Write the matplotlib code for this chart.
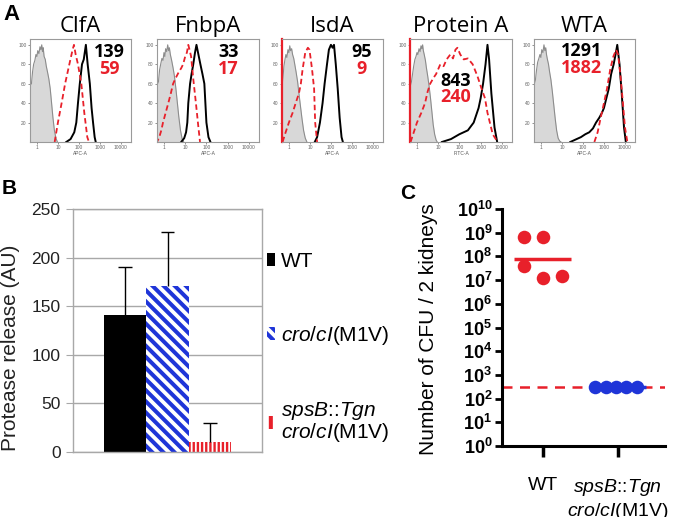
import matplotlib
matplotlib.use("Agg")
import matplotlib.pyplot as plt
from matplotlib.patches import Patch
import numpy as np

plt.rcParams['font.family'] = 'Liberation Sans'
plt.rcParams['mathtext.fontset'] = 'custom'
plt.rcParams['mathtext.rm'] = 'Liberation Sans'
plt.rcParams['mathtext.it'] = 'Liberation Sans:italic'
plt.rcParams['mathtext.bf'] = 'Liberation Sans:bold'
plt.rcParams['hatch.linewidth'] = 2.9

# ---- Panel A: flow cytometry histograms (intensity, % of max) ----
flow_titles = ["ClfA", "FnbpA", "IsdA", "Protein A", "WTA"]
flow_xlabels = ["APC-A", "APC-A", "APC-A", "FITC-A", "APC-A"]
mfi_wt = [139, 33, 95, 843, 1291]
mfi_mut = [59, 17, 9, 240, 1882]

clfa_neg = ([0.47, 0.55, 0.62, 0.7, 0.8, 0.9, 1.0, 1.1, 1.25, 1.4, 1.55, 1.7, 1.85, 2.0, 2.2, 2.5, 2.8, 3.2, 3.7, 4.3, 5.0, 5.8, 6.8, 8.0, 9.5],
            [58, 60, 72, 80, 84, 90, 88, 94, 91, 98, 95, 100, 93, 97, 88, 85, 78, 72, 65, 55, 40, 25, 12, 4, 0])
clfa_wt = ([25, 40, 60, 75, 90, 110, 140, 170, 214, 260, 330, 400, 470, 560, 630],
           [0, 3, 10, 20, 40, 60, 80, 85, 100, 80, 60, 35, 20, 5, 0])
clfa_mut = ([7, 10, 15, 22, 35, 50, 58, 70, 90, 130, 180, 250, 300],
            [0, 20, 40, 60, 80, 95, 100, 90, 80, 60, 30, 5, 0])

fnbpa_neg = ([0.47, 0.55, 0.62, 0.7, 0.8, 0.9, 1.0, 1.1, 1.2, 1.35, 1.5, 1.65, 1.8, 2.0, 2.3, 2.7, 3.1, 3.6, 4.2, 5.0, 6.0, 7.2, 8.5],
             [58, 62, 74, 80, 86, 84, 92, 88, 96, 93, 100, 94, 97, 90, 84, 76, 68, 56, 42, 26, 12, 3, 0])
fnbpa_wt = ([6.5, 9, 11, 12.6, 14, 17, 20, 24, 29, 34, 42, 52, 65, 80, 100, 125, 155],
            [0, 4, 10, 20, 40, 60, 70, 80, 92, 100, 90, 80, 70, 60, 20, 5, 0])
fnbpa_mut = ([0.47, 0.47, 0.6, 0.75, 0.9, 1.2, 1.6, 2.1, 2.7, 3.6, 5, 6.5, 8, 10, 12, 14, 16, 19, 24, 32, 42, 50],
             [100, 0, 5, 12, 20, 30, 40, 50, 60, 66, 72, 76, 80, 88, 92, 100, 95, 88, 65, 40, 15, 0])

isda_neg = ([0.47, 0.52, 0.58, 0.65, 0.72, 0.8, 0.9, 1.0, 1.1, 1.2, 1.35, 1.5, 1.7, 1.9, 2.2, 2.6, 3.0, 3.5, 4.2, 5.0, 6.0, 7.2],
            [58, 66, 78, 85, 90, 87, 95, 92, 99, 94, 96, 90, 86, 80, 72, 62, 50, 38, 24, 12, 4, 0])
isda_wt = ([17, 22, 30, 40, 50, 65, 80, 100, 120, 140, 170, 210, 260, 320, 370],
           [0, 5, 20, 40, 60, 80, 95, 100, 97, 100, 80, 55, 25, 5, 0])
isda_mut = ([0.5, 0.7, 1.0, 1.5, 2.1, 3, 3.7, 4.5, 6, 8, 9.5, 11, 12.6, 15.8, 17.8, 22],
            [0, 10, 20, 30, 40, 50, 60, 75, 92, 97, 95, 85, 75, 55, 20, 0])

prota_neg = ([0.47, 0.55, 0.62, 0.7, 0.8, 0.9, 1.0, 1.1, 1.25, 1.4, 1.55, 1.7, 1.85, 2.0, 2.2, 2.5, 2.8, 3.2, 3.7, 4.3, 5.0, 5.8, 6.8, 8.0, 9.0],
             [56, 62, 70, 78, 85, 88, 92, 90, 96, 93, 99, 96, 100, 94, 90, 84, 76, 68, 58, 46, 32, 18, 8, 2, 0])
prota_wt = ([15, 40, 100, 250, 470, 800, 1000, 1300, 1700, 2100, 2500, 3200, 4500, 6000],
            [0, 3, 8, 12, 20, 35, 45, 60, 80, 100, 85, 50, 15, 0])
prota_mut = ([0.5, 1.0, 1.6, 2.4, 3.2, 4.2, 6, 8, 12.6, 18, 25, 37, 50, 65, 80, 110, 160, 250, 420, 700, 1100, 1600, 2100, 3700, 6300],
             [0, 20, 30, 40, 52, 60, 66, 70, 80, 78, 85, 90, 86, 95, 97, 90, 85, 86, 80, 68, 55, 45, 30, 8, 0])

wta_neg = ([0.47, 0.55, 0.62, 0.7, 0.8, 0.9, 1.0, 1.1, 1.25, 1.4, 1.55, 1.7, 1.85, 2.0, 2.3, 2.6, 3.0, 3.5, 4.1, 4.8, 5.6, 6.6, 7.8, 9.0],
           [58, 64, 74, 82, 86, 90, 87, 95, 92, 100, 94, 97, 90, 86, 80, 72, 64, 52, 38, 24, 12, 4, 1, 0])
wta_wt = ([25, 50, 80, 130, 200, 300, 420, 600, 800, 1000, 1300, 1700, 2200, 2900, 3700, 4300, 5500, 7000, 9000, 11000],
          [0, 3, 5, 8, 10, 14, 20, 25, 30, 35, 45, 55, 70, 80, 92, 100, 80, 50, 15, 0])
wta_mut = ([350, 500, 700, 1000, 1400, 2000, 2800, 3800, 4700, 6000, 8000, 10000, 13000],
           [0, 10, 25, 40, 55, 75, 88, 95, 90, 70, 40, 15, 0])

flow_neg = [clfa_neg, fnbpa_neg, isda_neg, prota_neg, wta_neg]
flow_wt = [clfa_wt, fnbpa_wt, isda_wt, prota_wt, wta_wt]
flow_mut = [clfa_mut, fnbpa_mut, isda_mut, prota_mut, wta_mut]

# ---- Panel B: protease release ----
strains_b = ["WT", r"$\mathit{cro/cI}$(M1V)",
             r"$\mathit{spsB}$::$\mathit{Tgn}$" + "\n" + r"$\mathit{cro/cI}$(M1V)"]
protease = [141, 171, 10]
protease_err = [49, 55, 20]

# ---- Panel C: CFU per 2 kidneys ----
groups_c = ["WT", r"$\mathit{spsB}$::$\mathit{Tgn}$" + "\n" + r"$\mathit{cro/cI}$(M1V)"]
cfu_wt = [6.8e8, 6.8e8, 4.0e7, 1.2e7, 1.5e7]
cfu_mut = [310, 310, 310, 310, 310]
detection_limit = 310

RED = '#e8202a'
BLUE = '#1f35d8'
W, H = 680, 517


def rect(x0, y0, x1, y1):
    return [x0 / W, 1 - y1 / H, (x1 - x0) / W, (y1 - y0) / H]


fig = plt.figure(figsize=(6.8, 5.17), dpi=100)

# Panel A
a_left = [30, 157, 282, 410, 534]
a_right = [131, 259, 383, 512, 635]
mfi_xfrac = [0.79, 0.70, 0.79, 0.45, 0.475]
mfi_yfrac = [(0.875, 0.71), (0.875, 0.71), (0.875, 0.71), (0.59, 0.44), (0.879, 0.714)]
for i in range(5):
    ax = fig.add_axes(rect(a_left[i], 39, a_right[i], 142))
    gx, gy = flow_neg[i]
    ax.fill_between(gx, gy, color='#d8d8d8', lw=0)
    ax.plot(gx, gy, color='#8c8c8c', lw=0.8)
    ax.plot(*flow_wt[i], color='black', lw=1.4)
    ax.plot(*flow_mut[i], color=RED, lw=1.3, ls=(0, (3, 1.8)))
    ax.set_xscale('log')
    ax.set_xlim(0.47, 30000)
    ax.set_ylim(0, 106)
    ax.set_xticks([1, 10, 100, 1000, 10000])
    ax.set_xticklabels(["1", "10", "100", "1000", "10000"])
    ax.xaxis.set_minor_locator(matplotlib.ticker.NullLocator())
    ax.set_yticks([20, 40, 60, 80, 100])
    ax.tick_params(labelsize=3.5, length=1.5, width=0.5, pad=1, colors='#666666')
    ax.set_xlabel(flow_xlabels[i], fontsize=3.5, labelpad=0.5, color='#555555')
    for s in ax.spines.values():
        s.set_color('#9a9a9a')
        s.set_linewidth(0.8)
    if i in (2, 3):
        ax.spines['left'].set_color(RED)
        ax.spines['left'].set_linewidth(1.6)
    ax.text(0.5, 1.068, flow_titles[i], transform=ax.transAxes, ha='center',
            va='baseline', fontsize=16, family='Open Sans')
    ax.text(mfi_xfrac[i], mfi_yfrac[i][0], str(mfi_wt[i]), transform=ax.transAxes,
            ha='center', va='center', fontsize=13, family='Open Sans',
            weight='bold', color='black')
    ax.text(mfi_xfrac[i], mfi_yfrac[i][1], str(mfi_mut[i]), transform=ax.transAxes,
            ha='center', va='center', fontsize=13, family='Open Sans',
            weight='bold', color=RED)

# Panel B
axb = fig.add_axes(rect(73, 209, 262, 452))
xb = np.arange(len(protease))
bars = axb.bar(xb, protease, width=1.0, zorder=2)
bars[0].set_facecolor('black')
bars[1].set_facecolor('white')
bars[1].set_edgecolor(BLUE)
bars[1].set_hatch('\\\\\\')
bars[1].set_linewidth(0)
bars[2].set_facecolor('white')
bars[2].set_edgecolor(RED)
bars[2].set_linewidth(0)
if hasattr(bars[2], 'set_hatch_linewidth'):
    bars[2].set_hatch('||||')
    bars[2].set_hatch_linewidth(1.7)
else:
    bars[2].set_hatch('||')
tops = np.array(protease) + np.array(protease_err)
axb.vlines(xb, protease, tops, color='black', lw=1, zorder=3)
axb.hlines(tops, xb - 0.16, xb + 0.16, color='black', lw=1, zorder=3)
axb.set_xlim(-1.23, 3.23)
axb.set_ylim(0, 250)
axb.set_yticks([0, 50, 100, 150, 200, 250])
axb.set_xticks([])
axb.yaxis.grid(True, color='#a8a8a8', lw=1)
axb.set_axisbelow(True)
for s in axb.spines.values():
    s.set_color('#a8a8a8')
    s.set_linewidth(1)
axb.tick_params(axis='y', length=5, color='#a8a8a8', labelsize=12.5, pad=4,
                labelcolor='#222222')
fig.text(11 / W, 1 - 348 / H, "Protease release (AU)", rotation=90,
         ha='center', va='center', fontsize=15, color='#222222')

red_handle = Patch(facecolor='white', edgecolor=RED, hatch='||', lw=0)
handles = [Patch(facecolor='black', lw=0),
           Patch(facecolor='white', edgecolor=BLUE, hatch='\\\\\\', lw=0),
           red_handle]
leg = fig.legend(handles, strains_b, loc='upper left', bbox_to_anchor=(267 / W, 1 - 252 / H),
                 frameon=False, fontsize=15, handlelength=0.4, handleheight=0.55,
                 handletextpad=0.25, labelspacing=2.55, borderaxespad=0, borderpad=0)
leg.get_texts()[2].set_linespacing(0.95)

# Panel C
axc = fig.add_axes(rect(502, 209, 665, 446))
axc.set_yscale('log')
wt_off = [-0.25, 0.0, -0.25, 0.0, 0.25]
mut_off = [-0.3, -0.16, -0.03, 0.11, 0.25]
axc.axhline(detection_limit, color=RED, lw=1.8, ls=(0, (4, 3)), zorder=1)
axc.hlines(np.exp(np.mean(np.log(cfu_mut))), 1.63, 2.37, color=BLUE, lw=2.5, zorder=2)
axc.scatter([2 + o for o in mut_off], cfu_mut, s=95, color=BLUE, lw=0, zorder=3)
axc.scatter([1 + o for o in wt_off], cfu_wt, s=95, color=RED, lw=0, zorder=3)
axc.hlines(np.exp(np.mean(np.log(cfu_wt))), 0.61, 1.37, color=RED, lw=2.5, zorder=2)
axc.set_xlim(0.45, 2.63)
axc.set_ylim(1, 1e10)
axc.set_yticks([10.0 ** k for k in range(11)])
axc.set_yticklabels([r"$\mathbf{10^{%d}}$" % k for k in range(11)])
axc.yaxis.set_minor_locator(matplotlib.ticker.NullLocator())
axc.set_xticks([1, 2])
axc.set_xticklabels(groups_c)
axc.spines['top'].set_visible(False)
axc.spines['right'].set_visible(False)
axc.spines['left'].set_linewidth(2.2)
axc.spines['bottom'].set_linewidth(2.2)
axc.tick_params(axis='y', length=5, width=2, labelsize=13, pad=2)
axc.tick_params(axis='x', length=8, width=2.5, labelsize=14, pad=14)
fig.text(429 / W, 1 - 329 / H, "Number of CFU / 2 kidneys", rotation=90,
         ha='center', va='center', fontsize=15)

# panel letters
fig.text(3 / W, 1 - 4 / H, "A", fontsize=16, weight='bold', va='top')
fig.text(2 / W, 1 - 179 / H, "B", fontsize=15, weight='bold', va='top')
fig.text(400 / W, 1 - 184 / H, "C", fontsize=15, weight='bold', va='top')

fig.savefig("out.png", dpi=100)
